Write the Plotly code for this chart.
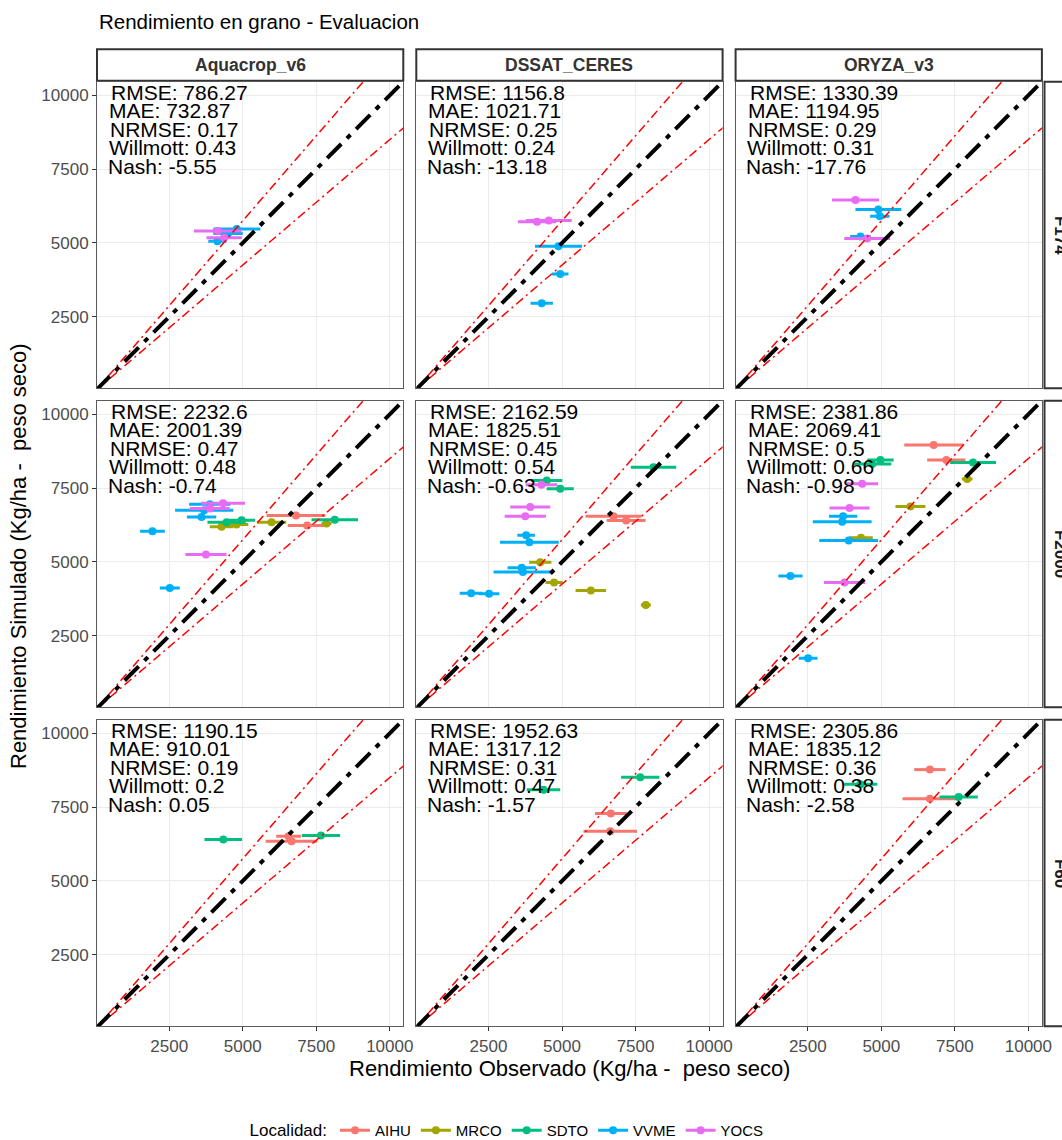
import plotly.graph_objects as go

# ---------------- data ----------------
TITLE = "Rendimiento en grano - Evaluacion"
X_TITLE = "Rendimiento Observado (Kg/ha - \u00a0peso seco)"
Y_TITLE = "Rendimiento Simulado (Kg/ha - \u00a0peso seco)"
LEGEND_TITLE = "Localidad:"

MODELS = ["Aquacrop_v6", "DSSAT_CERES", "ORYZA_v3"]
TREATMENTS = ["F174", "F2000", "F60"]
LOCALITIES = ["AIHU", "MRCO", "SDTO", "VVME", "YOCS"]
LOC_COLORS = ["#F8766D", "#A3A500", "#00BF7D", "#00B0F6", "#E76BF3"]
TICKS = [2500, 5000, 7500, 10000]
TICK_LABELS = ["2500", "5000", "7500", "10000"]
X_LIMITS = [45, 10460]
Y_LIMITS = [80, 10460]
ONE_TO_ONE_SLOPE = 1.0
BAND_SLOPES = [1.15, 0.85]

# F174
F174_AQ_loc = ["VVME", "VVME", "VVME", "YOCS", "YOCS"]
F174_AQ_obs = [4800, 4500, 4140, 4150, 4370]
F174_AQ_sim = [5470, 5320, 5060, 5400, 5175]
F174_AQ_sd = [800, 500, 310, 810, 600]

F174_DS_loc = ["YOCS", "YOCS", "VVME", "VVME", "VVME"]
F174_DS_obs = [4150, 4550, 4880, 4940, 4310]
F174_DS_sim = [5720, 5760, 4890, 3950, 2960]
F174_DS_sd = [650, 780, 800, 280, 380]

F174_OR_loc = ["YOCS", "VVME", "VVME", "VVME", "YOCS"]
F174_OR_obs = [4120, 4900, 4950, 4290, 4520]
F174_OR_sim = [6450, 6130, 5900, 5220, 5150]
F174_OR_sd = [800, 780, 330, 350, 780]

# F2000
F2000_AQ_loc = ["VVME", "YOCS", "VVME", "YOCS", "VVME", "VVME", "YOCS", "VVME",
                "SDTO", "SDTO", "SDTO", "MRCO", "MRCO", "MRCO", "MRCO", "AIHU", "AIHU"]
F2000_AQ_obs = [3880, 4330, 3690, 3880, 3600, 1930, 3750, 2520,
                4450, 4960, 8130, 4280, 4790, 5980, 7850, 6810, 7190]
F2000_AQ_sim = [6950, 6990, 6750, 6810, 6520, 6040, 5250, 4120,
                6345, 6410, 6430, 6190, 6265, 6340, 6300, 6570, 6230]
F2000_AQ_sd = [700, 750, 990, 680, 500, 420, 700, 340,
               650, 460, 790, 400, 400, 500, 170, 1000, 660]

F2000_DS_loc = ["SDTO", "SDTO", "YOCS", "SDTO", "YOCS", "YOCS", "AIHU", "AIHU", "VVME",
                "VVME", "MRCO", "VVME", "VVME", "MRCO", "MRCO", "MRCO", "VVME", "VVME"]
F2000_DS_obs = [8110, 4480, 4300, 4940, 3920, 3750, 6750, 7180, 3780,
                3890, 4260, 3630, 3670, 4730, 5980, 7850, 1910, 2520]
F2000_DS_sim = [8210, 7760, 7610, 7480, 6860, 6545, 6550, 6400, 5900,
                5670, 4990, 4800, 4660, 4300, 4030, 3545, 3940, 3920]
F2000_DS_sd = [770, 530, 540, 460, 680, 700, 950, 660, 300,
               1000, 380, 480, 1000, 290, 520, 170, 390, 350]

F2000_OR_loc = ["AIHU", "AIHU", "SDTO", "SDTO", "SDTO", "MRCO", "YOCS", "MRCO",
                "YOCS", "VVME", "VVME", "MRCO", "VVME", "VVME", "YOCS", "VVME"]
F2000_OR_obs = [6780, 7210, 4970, 8120, 4690, 7920, 4350, 5990,
                3920, 3700, 3670, 4310, 3890, 1910, 3750, 2510]
F2000_OR_sim = [8960, 8450, 8455, 8370, 8320, 7805, 7650, 6880,
                6830, 6545, 6360, 5820, 5725, 4520, 4300, 1740]
F2000_OR_sd = [1000, 650, 450, 780, 650, 180, 540, 510,
               680, 480, 1000, 400, 1000, 410, 700, 320]

# F60
F60_AQ_loc = ["SDTO", "SDTO", "AIHU", "AIHU"]
F60_AQ_obs = [4340, 7660, 6660, 6560]
F60_AQ_sim = [6400, 6540, 6340, 6510]
F60_AQ_sd = [640, 650, 880, 420]

F60_DS_loc = ["SDTO", "SDTO", "AIHU", "AIHU"]
F60_DS_obs = [7660, 4370, 6660, 6640]
F60_DS_sim = [8510, 8090, 7280, 6680]
F60_DS_sd = [650, 570, 540, 910]

F60_OR_loc = ["AIHU", "SDTO", "AIHU", "SDTO"]
F60_OR_obs = [6650, 4290, 6650, 7630]
F60_OR_sim = [8770, 8270, 7780, 7840]
F60_OR_sd = [530, 570, 930, 650]

# metrics text (rows = treatments, cols = models)
METRIC_NAMES = ["RMSE", "MAE", "NRMSE", "Willmott", "Nash"]
RMSE_TXT = [["786.27", "1156.8", "1330.39"], ["2232.6", "2162.59", "2381.86"], ["1190.15", "1952.63", "2305.86"]]
MAE_TXT = [["732.87", "1021.71", "1194.95"], ["2001.39", "1825.51", "2069.41"], ["910.01", "1317.12", "1835.12"]]
NRMSE_TXT = [["0.17", "0.25", "0.29"], ["0.47", "0.45", "0.5"], ["0.19", "0.31", "0.36"]]
WILLMOTT_TXT = [["0.43", "0.24", "0.31"], ["0.48", "0.54", "0.66"], ["0.2", "0.47", "0.38"]]
NASH_TXT = [["-5.55", "-13.18", "-17.76"], ["-0.74", "-0.63", "-0.98"], ["0.05", "-1.57", "-2.58"]]
METRIC_Y = [10100, 9475, 8850, 8225, 7600]
METRIC_X = [450, 390, 410, 380, 340]

PANELS = [
    [(F174_AQ_loc, F174_AQ_obs, F174_AQ_sim, F174_AQ_sd),
     (F174_DS_loc, F174_DS_obs, F174_DS_sim, F174_DS_sd),
     (F174_OR_loc, F174_OR_obs, F174_OR_sim, F174_OR_sd)],
    [(F2000_AQ_loc, F2000_AQ_obs, F2000_AQ_sim, F2000_AQ_sd),
     (F2000_DS_loc, F2000_DS_obs, F2000_DS_sim, F2000_DS_sd),
     (F2000_OR_loc, F2000_OR_obs, F2000_OR_sim, F2000_OR_sd)],
    [(F60_AQ_loc, F60_AQ_obs, F60_AQ_sim, F60_AQ_sd),
     (F60_DS_loc, F60_DS_obs, F60_DS_sim, F60_DS_sd),
     (F60_OR_loc, F60_OR_obs, F60_OR_sim, F60_OR_sd)],
]
METRICS = [RMSE_TXT, MAE_TXT, NRMSE_TXT, WILLMOTT_TXT, NASH_TXT]

# ---------------- layout geometry (pixels) ----------------
W_FIG, H_FIG = 1062, 1140
ML, MR, MT, MB = 97, 20, 49, 113
PW = W_FIG - ML - MR
PH = H_FIG - MT - MB
COL_LEFT = [97, 416.3, 735.6]
PANEL_W = 306.3
ROW_TOP = [81.7, 400.7, 719.7]
PANEL_H = 306.5
FONT = "Liberation Sans, Arial, sans-serif"


def fx(px):
    return (px - ML) / PW


def fy(py):
    return 1 - (py - MT) / PH


fig = go.Figure()
layout = dict(
    width=W_FIG, height=H_FIG,
    margin=dict(l=ML, r=MR, t=MT, b=MB, pad=0, autoexpand=False),
    paper_bgcolor="white", plot_bgcolor="white",
    font=dict(family=FONT, color="black"),
    showlegend=True,
)
annotations = []
shapes = []

color_of = dict(zip(LOCALITIES, LOC_COLORS))
xline = [0, 12000]

for r in range(3):
    for c in range(3):
        k = r * 3 + c + 1
        xa = "x" if k == 1 else f"x{k}"
        ya = "y" if k == 1 else f"y{k}"
        L = COL_LEFT[c]
        T = ROW_TOP[r]
        layout["xaxis" if k == 1 else f"xaxis{k}"] = dict(
            domain=[fx(L), fx(L + PANEL_W)], range=X_LIMITS, anchor=ya,
            tickvals=TICKS, ticktext=TICK_LABELS,
            showticklabels=(r == 2), ticks="outside" if r == 2 else "",
            ticklen=4, tickcolor="#333333", tickwidth=1,
            tickfont=dict(size=17, color="#4D4D4D", family=FONT),
            showgrid=True, gridcolor="#EBEBEB", gridwidth=1.1,
            showline=True, mirror=True, linecolor="#5A5A5A", linewidth=1,
            zeroline=False,
        )
        layout["yaxis" if k == 1 else f"yaxis{k}"] = dict(
            domain=[fy(T + PANEL_H), fy(T)], range=Y_LIMITS, anchor=xa,
            tickvals=TICKS, ticktext=TICK_LABELS,
            showticklabels=(c == 0), ticks="outside" if c == 0 else "",
            ticklen=4, tickcolor="#333333", tickwidth=1,
            tickfont=dict(size=17, color="#4D4D4D", family=FONT),
            showgrid=True, gridcolor="#EBEBEB", gridwidth=1.1,
            showline=True, mirror=True, linecolor="#5A5A5A", linewidth=1,
            zeroline=False,
        )

        locs, obs, sim, sd = PANELS[r][c]
        for loc in LOCALITIES:
            idx = [i for i, l in enumerate(locs) if l == loc]
            if not idx:
                continue
            col = color_of[loc]
            fig.add_trace(go.Scatter(
                x=[obs[i] for i in idx], y=[sim[i] for i in idx],
                mode="markers", xaxis=xa, yaxis=ya, showlegend=False,
                marker=dict(color=col, size=8),
                error_x=dict(type="data", array=[sd[i] for i in idx], visible=True,
                             color=col, thickness=3, width=0),
                hoverinfo="skip",
            ))

        for s in BAND_SLOPES:
            fig.add_trace(go.Scatter(
                x=xline, y=[v * s for v in xline], mode="lines", xaxis=xa, yaxis=ya,
                showlegend=False, hoverinfo="skip",
                line=dict(color="#FF0000", width=1.5, dash="9px,4px,2px,4px"),
            ))
        fig.add_trace(go.Scatter(
            x=xline, y=[v * ONE_TO_ONE_SLOPE for v in xline], mode="lines", xaxis=xa, yaxis=ya,
            showlegend=False, hoverinfo="skip",
            line=dict(color="black", width=4, dash="20px,8px,5px,8px"),
        ))

        for m, name in enumerate(METRIC_NAMES):
            annotations.append(dict(
                x=METRIC_X[m], y=METRIC_Y[m], xref=xa, yref=ya,
                text=f"{name}: {METRICS[m][r][c]}", showarrow=False,
                xanchor="left", yanchor="middle",
                font=dict(size=21, color="black", family=FONT),
            ))

# top strips
for c, model in enumerate(MODELS):
    L = COL_LEFT[c]
    shapes.append(dict(type="rect", xref="paper", yref="paper",
                       x0=fx(L), x1=fx(L + PANEL_W), y0=fy(80.7), y1=fy(49.3),
                       line=dict(color="#333333", width=2), fillcolor="white", layer="below"))
    annotations.append(dict(x=fx(L + PANEL_W / 2), y=fy(65), xref="paper", yref="paper",
                            text=f"<b>{model}</b>", showarrow=False,
                            xanchor="center", yanchor="middle",
                            font=dict(size=17.5, color="#333333", family=FONT)))

# right strips
for r, tr in enumerate(TREATMENTS):
    T = ROW_TOP[r]
    shapes.append(dict(type="rect", xref="paper", yref="paper",
                       x0=fx(1044.5), x1=fx(1095), y0=fy(T + PANEL_H), y1=fy(T),
                       line=dict(color="#333333", width=2), fillcolor="white", layer="below"))
    annotations.append(dict(x=fx(1060), y=fy(T + PANEL_H / 2), xref="paper", yref="paper",
                            text=f"<b>{tr}</b>", showarrow=False, textangle=90,
                            xanchor="center", yanchor="middle",
                            font=dict(size=17, color="#1A1A1A", family=FONT)))

# titles
annotations.append(dict(x=fx(97), y=fy(22), xref="paper", yref="paper", text=TITLE,
                        showarrow=False, xanchor="left", yanchor="middle",
                        font=dict(size=20.5, color="black", family=FONT)))
annotations.append(dict(x=fx(569.5), y=fy(1068), xref="paper", yref="paper", text=X_TITLE,
                        showarrow=False, xanchor="center", yanchor="middle",
                        font=dict(size=22, color="black", family=FONT)))
annotations.append(dict(x=fx(18), y=fy(556), xref="paper", yref="paper", text=Y_TITLE,
                        showarrow=False, xanchor="center", yanchor="middle", textangle=-90,
                        font=dict(size=22, color="black", family=FONT)))

# legend entries
for loc, col in zip(LOCALITIES, LOC_COLORS):
    fig.add_trace(go.Scatter(x=[None], y=[None], mode="lines+markers", name=loc,
                             marker=dict(color=col, size=8), line=dict(color=col, width=3)))

layout["legend"] = dict(
    orientation="h", x=fx(508), xanchor="center", y=fy(1114), yanchor="top",
    title=dict(text=LEGEND_TITLE, font=dict(size=17, color="black", family=FONT)),
    font=dict(size=15, color="black", family=FONT), itemwidth=30,
    bgcolor="rgba(0,0,0,0)",
)
layout["annotations"] = annotations
layout["shapes"] = shapes
fig.update_layout(**layout)

fig.write_html("out.html")
